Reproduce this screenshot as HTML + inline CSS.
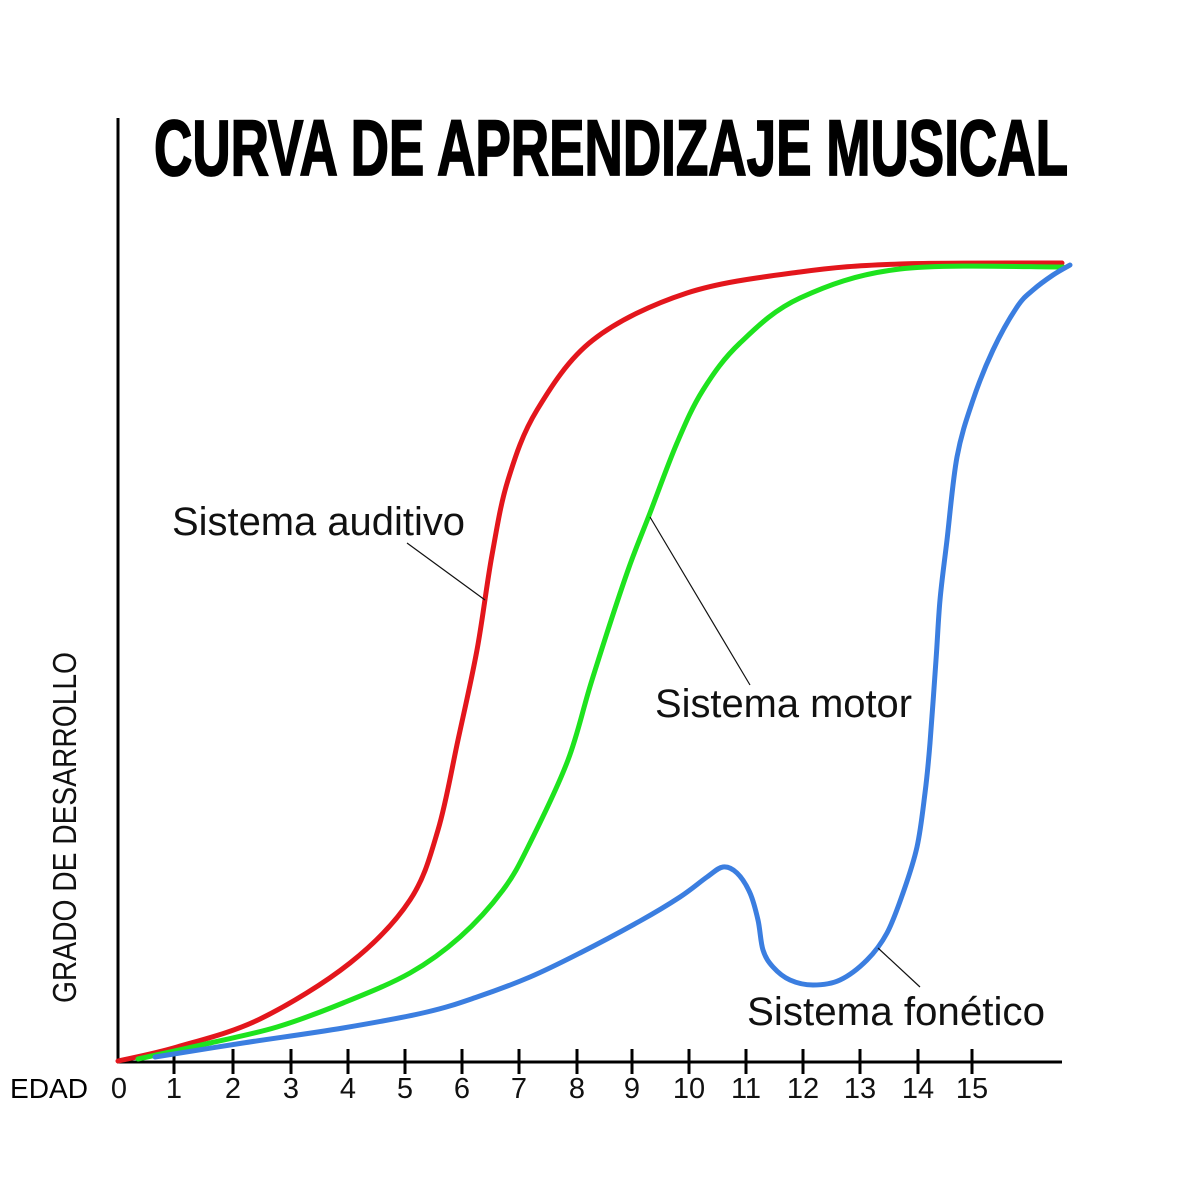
<!DOCTYPE html>
<html><head><meta charset="utf-8"><style>
html,body{margin:0;padding:0;background:#fff;}
svg{display:block;}
</style></head><body>
<svg width="1181" height="1181" viewBox="0 0 1181 1181" xmlns="http://www.w3.org/2000/svg">
<rect width="1181" height="1181" fill="#fff"/>
<text x="154" y="175" font-family="'Liberation Sans Narrow','Liberation Sans',sans-serif" font-weight="bold" font-size="79" textLength="914" lengthAdjust="spacingAndGlyphs" fill="#000" stroke="#000" stroke-width="1.8">CURVA DE APRENDIZAJE MUSICAL</text>
<!-- axes -->
<line x1="118" y1="118" x2="118" y2="1063" stroke="#000" stroke-width="3"/>
<line x1="117" y1="1062" x2="1062" y2="1062" stroke="#000" stroke-width="3"/>
<g stroke="#000" stroke-width="3">
<line x1="174" y1="1049" x2="174" y2="1074"/>
<line x1="233" y1="1049" x2="233" y2="1074"/>
<line x1="291" y1="1049" x2="291" y2="1074"/>
<line x1="348" y1="1049" x2="348" y2="1074"/>
<line x1="405" y1="1049" x2="405" y2="1074"/>
<line x1="462" y1="1049" x2="462" y2="1074"/>
<line x1="519" y1="1049" x2="519" y2="1074"/>
<line x1="577" y1="1049" x2="577" y2="1074"/>
<line x1="632" y1="1049" x2="632" y2="1074"/>
<line x1="689" y1="1049" x2="689" y2="1074"/>
<line x1="746" y1="1049" x2="746" y2="1074"/>
<line x1="803" y1="1049" x2="803" y2="1074"/>
<line x1="860" y1="1049" x2="860" y2="1074"/>
<line x1="918" y1="1049" x2="918" y2="1074"/>
<line x1="972" y1="1049" x2="972" y2="1074"/>
</g>
<g font-family="'Liberation Sans',sans-serif" font-size="29" fill="#111" text-anchor="middle">
<text x="119" y="1098">0</text>
<text x="174" y="1098">1</text>
<text x="233" y="1098">2</text>
<text x="291" y="1098">3</text>
<text x="348" y="1098">4</text>
<text x="405" y="1098">5</text>
<text x="462" y="1098">6</text>
<text x="519" y="1098">7</text>
<text x="577" y="1098">8</text>
<text x="632" y="1098">9</text>
<text x="689" y="1098">10</text>
<text x="746" y="1098">11</text>
<text x="803" y="1098">12</text>
<text x="860" y="1098">13</text>
<text x="918" y="1098">14</text>
<text x="972" y="1098">15</text>
</g>
<text x="10" y="1098" font-family="'Liberation Sans',sans-serif" font-size="28" textLength="78" lengthAdjust="spacingAndGlyphs" fill="#000">EDAD</text>
<text transform="translate(76,1003) rotate(-90)" x="0" y="0" font-family="'Liberation Sans',sans-serif" font-size="33" textLength="351" lengthAdjust="spacingAndGlyphs" fill="#111">GRADO DE DESARROLLO</text>
<!-- curves -->
<g fill="none" stroke-width="5" stroke-linejoin="round" stroke-linecap="round">
<path stroke="#e3161c" d="M118,1061 C127.8,1058.7 153.3,1054 177,1047 C200.7,1040 231.2,1033 260,1019 C288.8,1005 325,982.8 350,963 C375,943.2 395.3,922.2 410,900 C424.7,877.8 430,856.7 438,830 C446,803.3 451.5,770 458,740 C464.5,710 471.3,680.8 477,650 C482.7,619.2 486.8,583.3 492,555 C497.2,526.7 500.5,504.2 508,480 C515.5,455.8 522.8,433.3 537,410 C551.2,386.7 568,359.5 593,340 C618,320.5 652.5,304.3 687,293 C721.5,281.7 764.5,276.8 800,272 C835.5,267.2 856.3,265.5 900,264 C943.7,262.5 1035,263.2 1062,263"/>
<path stroke="#1ee31e" d="M138,1059 C150,1056.3 186.8,1048.3 210,1043 C233.2,1037.7 254.8,1033.7 277,1027 C299.2,1020.3 320.8,1012 343,1003 C365.2,994 390.5,984 410,973 C429.5,962 444.5,950.8 460,937 C475.5,923.2 491.3,905.7 503,890 C514.7,874.3 519.2,864.7 530,843 C540.8,821.3 557.7,787.2 568,760 C578.3,732.8 582.2,711.2 592,680 C601.8,648.8 617.3,600.8 627,573 C636.7,545.2 641.7,534.7 650,513 C658.3,491.3 668.2,463.5 677,443 C685.8,422.5 692.5,406.7 703,390 C713.5,373.3 723.8,358.3 740,343 C756.2,327.7 773.3,310.3 800,298 C826.7,285.7 856.2,274.2 900,269 C943.8,263.8 1035.8,267.3 1063,267"/>
<path stroke="#3b7ee0" d="M155,1057 C169.7,1054.7 211.7,1047.8 243,1043 C274.3,1038.2 312.3,1033.2 343,1028 C373.7,1022.8 404.7,1017.2 427,1012 C449.3,1006.8 459.8,1002.8 477,997 C494.2,991.2 512.8,984.3 530,977 C547.2,969.7 561.7,962.3 580,953 C598.3,943.7 623.3,930.3 640,921 C656.7,911.7 668.8,904.3 680,897 C691.2,889.7 699.8,882 707,877 C714.2,872 718,867.7 723,867 C728,866.3 732.5,868.7 737,873 C741.5,877.3 746.5,885.2 750,893 C753.5,900.8 755.8,910.5 758,920 C760.2,929.5 760.5,942.2 763,950 C765.5,957.8 768.5,962 773,967 C777.5,972 783.3,977 790,980 C796.7,983 804.7,985 813,985 C821.3,985 831,984.2 840,980 C849,975.8 859.2,967.8 867,960 C874.8,952.2 881,944.2 887,933 C893,921.8 898,907.3 903,893 C908,878.7 913.3,863.7 917,847 C920.7,830.3 922.8,810.3 925,793 C927.2,775.7 928.2,765.2 930,743 C931.8,720.8 934.3,683.8 936,660 C937.7,636.2 938.2,620 940,600 C941.8,580 944.2,563.8 947,540 C949.8,516.2 952.7,480.3 957,457 C961.3,433.7 967,417.8 973,400 C979,382.2 985.7,365.5 993,350 C1000.3,334.5 1010.3,317 1017,307 C1023.7,297 1027,295.3 1033,290 C1039,284.7 1046.8,279.2 1053,275 C1059.2,270.8 1067.2,266.7 1070,265"/>
</g>
<!-- annotation lines -->
<g stroke="#111" stroke-width="1.2">
<line x1="407" y1="543" x2="485" y2="600"/>
<line x1="650" y1="517" x2="750" y2="685"/>
<line x1="878" y1="948" x2="920" y2="987"/>
</g>
<g font-family="'Liberation Sans',sans-serif" font-size="40" fill="#111">
<text x="172" y="535" textLength="293" lengthAdjust="spacingAndGlyphs">Sistema auditivo</text>
<text x="655" y="717" textLength="257" lengthAdjust="spacingAndGlyphs">Sistema motor</text>
<text x="747" y="1025" textLength="298" lengthAdjust="spacingAndGlyphs">Sistema fonético</text>
</g>
</svg>
</body></html>
